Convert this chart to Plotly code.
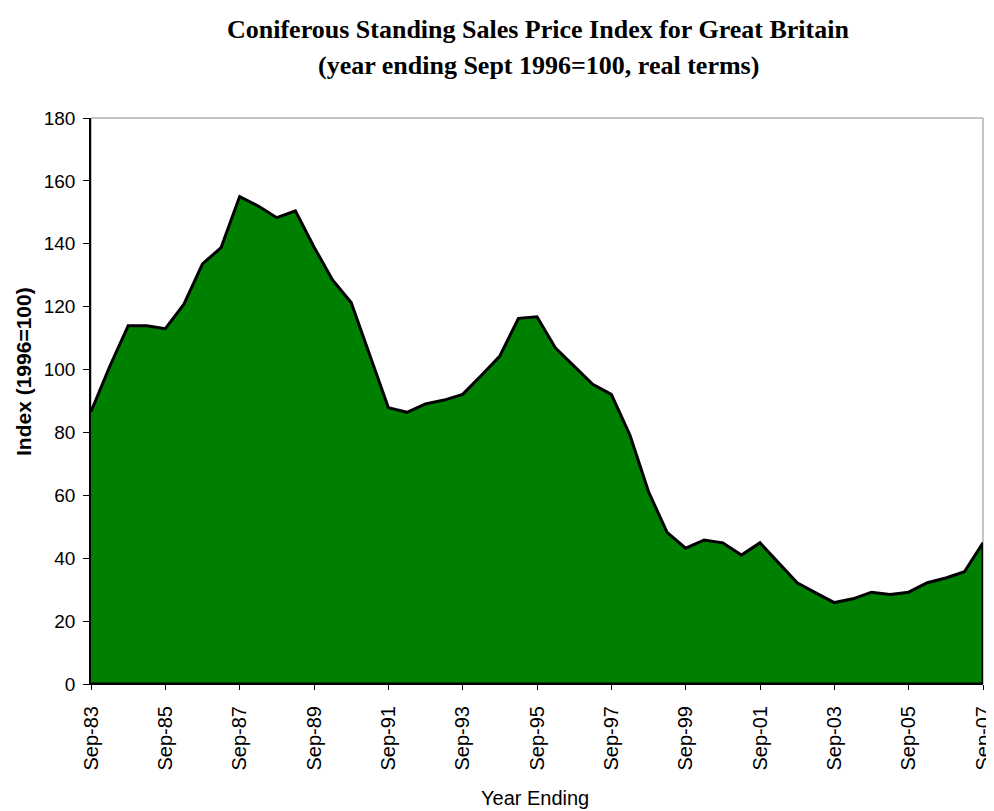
import plotly.graph_objects as go

# semi-annual periods from Sep-83 to Sep-07 (49 points)
period_index = list(range(49))
index_values = [86.6, 100.9, 113.9, 113.9, 113.0, 120.8, 133.6, 138.8, 155.0, 152.0,
                148.3, 150.5, 139.0, 128.5, 121.3, 104.7, 87.9, 86.4, 89.1, 90.3,
                92.1, 98.1, 104.3, 116.3, 116.8, 106.8, 100.9, 95.3, 92.1, 79.2,
                61.2, 48.2, 43.2, 45.8, 44.9, 41.0, 44.9, 38.6, 32.2, 29.0,
                25.9, 27.1, 29.2, 28.5, 29.2, 32.2, 33.7, 35.7, 44.9]
tick_positions = list(range(0, 49, 4))
tick_labels = ["Sep-83", "Sep-85", "Sep-87", "Sep-89", "Sep-91", "Sep-93", "Sep-95",
               "Sep-97", "Sep-99", "Sep-01", "Sep-03", "Sep-05", "Sep-07"]
y_ticks = [0, 20, 40, 60, 80, 100, 120, 140, 160, 180]

title_line1 = "Coniferous Standing Sales Price Index for Great Britain"
title_line2 = "(year ending Sept 1996=100, real terms)"
x_title = "Year Ending"
y_title = "Index (1996=100)"

# page body has an 8px margin; figure placed accordingly
OFF = 8
PL, PR, PT, PB = 91, 983, 118, 684  # plot area in window pixels
W, H = 994 - OFF, 811 - OFF
pw, ph = PR - PL, PB - PT

def px(x):
    return (x - PL) / pw

def py(y):
    return (PB - y) / ph

fig = go.Figure()
fig.add_trace(go.Scatter(
    x=period_index, y=index_values, mode="lines",
    fill="tozeroy", fillcolor="#008000",
    line=dict(color="black", width=3), hoverinfo="skip", showlegend=False))
# outline closing the area at the right edge and bottom
fig.add_trace(go.Scatter(
    x=[period_index[-1], period_index[-1], period_index[0]],
    y=[index_values[-1], 0, 0], mode="lines",
    line=dict(color="black", width=3), hoverinfo="skip", showlegend=False))

fig.add_shape(type="rect", xref="paper", yref="paper", x0=0, y0=0, x1=1, y1=1,
              line=dict(color="#8a8a8a", width=1), layer="below")

serif = "Liberation Serif"
fig.add_annotation(text="<b>" + title_line1 + "</b>", xref="paper", yref="paper",
                   x=px(538), y=py(29), xanchor="center", yanchor="middle",
                   showarrow=False, font=dict(family=serif, size=26, color="black"))
fig.add_annotation(text="<b>" + title_line2 + "</b>", xref="paper", yref="paper",
                   x=px(538), y=py(65), xanchor="center", yanchor="middle",
                   showarrow=False, font=dict(family=serif, size=26, color="black"))
fig.add_annotation(text=x_title, xref="paper", yref="paper",
                   x=px(535), y=py(798), xanchor="center", yanchor="middle",
                   showarrow=False, font=dict(size=20, color="black"))
fig.add_annotation(text="<b>" + y_title + "</b>", xref="paper", yref="paper",
                   x=px(23), y=py(372), xanchor="center", yanchor="middle",
                   textangle=-90, showarrow=False, font=dict(size=21, color="black"))

fig.update_layout(
    width=W, height=H,
    margin=dict(l=PL - OFF, r=W - (PR - OFF), t=PT - OFF, b=H - (PB - OFF)),
    paper_bgcolor="white", plot_bgcolor="white",
    font=dict(family="Liberation Sans", color="black"),
)
fig.update_xaxes(
    range=[0, 48], tickvals=tick_positions, ticktext=tick_labels,
    tickangle=-90, tickfont=dict(size=20), ticks="outside", ticklen=5,
    tickcolor="black", showline=True, linecolor="black", linewidth=1,
    showgrid=False, zeroline=False, automargin=False,
    ticklabeloverflow="allow", ticklabelstandoff=8)
fig.update_yaxes(
    range=[0, 180], tickvals=y_ticks, tickfont=dict(size=19),
    ticks="outside", ticklen=6, tickcolor="black",
    showline=True, linecolor="black", linewidth=1.5,
    showgrid=False, zeroline=False, automargin=False, ticklabelstandoff=4)

fig.write_html("out.html")
